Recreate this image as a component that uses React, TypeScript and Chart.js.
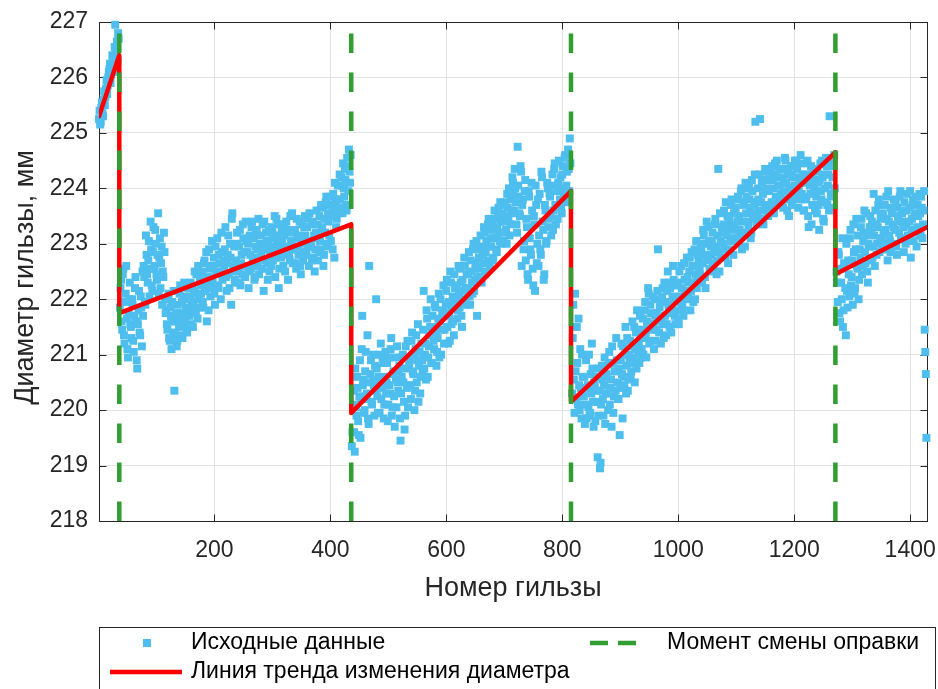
import React, { useEffect, useRef } from "react";
import { Chart, registerables } from "chart.js";

Chart.register(...registerables);

// ---------- axes ----------
const xTicks = [200, 400, 600, 800, 1000, 1200, 1400];
const yTicks = [218, 219, 220, 221, 222, 223, 224, 225, 226, 227];
const xMin = 1;
const xMax = 1429;
const yMin = 218;
const yMax = 227;

const xTitle = "Номер гильзы";
const yTitle = "Диаметр гильзы, мм";
const legendLabels = [
  "Исходные данные",
  "Линия тренда изменения диаметра",
  "Момент смены оправки",
];

// ---------- measured data ----------
const gilzaStep = 2;

const seg1Start = 1;
const seg1Y = [
  225.25, 225.15, 225.45, 225.35, 225.6, 225.5, 225.8, 225.7, 226.0, 226.15,
  225.9, 226.2, 226.35, 226.1, 226.95, 226.5, 226.3, 226.7,
];
const seg1bStart = 2;
const seg1bY = [
  225.4, 225.2, 225.55, 225.3, 225.75, 225.65, 225.95, 225.85, 226.1, 226.25,
  226.05, 226.4, 226.2, 226.55, 226.45, 226.65, 226.8,
];

const seg2Start = 37;
const seg2Y = [
  221.85, 222.35, 221.45, 222.55, 221.2, 222.1, 221.65, 220.95, 222.0, 221.55,
  221.3, 221.9, 221.05, 222.2, 221.6, 220.75, 221.8, 221.4, 222.05, 221.15,
  221.7, 222.4, 221.9, 222.8, 222.3, 223.05, 222.55, 222.9, 222.15, 223.3,
  222.6, 223.0, 222.35, 223.55, 222.75, 222.2, 222.95, 222.5, 223.2, 222.0,
  221.8, 221.45, 222.1, 221.25, 221.7, 221.95, 221.35, 220.35, 221.6, 221.15,
  221.9, 221.5, 222.25, 221.75, 221.3, 222.05, 221.6, 221.85, 221.4, 222.2,
  221.7, 222.3, 221.95, 221.5, 222.15, 221.8, 222.45, 221.65, 222.0, 222.35,
  222.1, 222.5, 221.85, 222.7, 222.25, 221.6, 222.4, 222.9, 222.05, 222.6,
  222.3, 222.75, 221.9, 222.5, 223.1, 222.2, 222.65, 222.0, 222.85, 222.4,
  222.55, 223.3, 222.15, 222.8, 222.45, 223.0, 221.9, 223.55, 222.6, 222.35,
  222.7, 223.2, 222.5, 222.95, 222.25, 222.8, 223.35, 222.6, 222.4, 223.05,
  222.85, 222.2, 223.15, 222.55, 223.4, 222.75, 222.35, 222.95, 223.25, 222.6,
  222.45, 223.0, 222.8, 223.35, 222.15, 222.9, 223.2, 222.65, 223.05, 222.5,
  222.95, 223.3, 222.7, 223.1, 222.4, 223.45, 222.85, 222.2, 223.15, 222.75,
  223.05, 222.6, 223.35, 222.9, 223.2, 222.35, 222.8, 223.5, 223.0, 222.65,
  222.9, 223.25, 222.55, 223.1, 222.8, 223.4, 222.45, 223.0, 222.7, 223.3,
  223.15, 222.85, 223.45, 222.6, 223.05, 222.95, 223.35, 222.75, 222.5, 223.2,
  223.1, 222.7, 223.5, 222.9, 223.3, 223.65, 222.8, 223.2, 223.85, 222.95,
  223.4, 223.7, 223.05, 223.55, 223.9, 222.75, 223.75, 223.45, 224.05, 223.6,
  223.8, 224.2, 223.55, 224.0, 224.35, 223.7, 224.55, 223.95, 224.3, 224.6,
];
const seg2bStart = 38;
const seg2bY = [
  222.2, 221.6, 222.45, 221.35, 221.95, 222.6, 221.1, 221.75, 222.3, 221.5,
  222.0, 221.25, 221.7, 222.4, 220.9, 221.55, 222.15, 221.35, 221.85, 222.5,
  222.6, 221.95, 223.15, 222.45, 222.7, 222.05, 223.4, 222.25, 222.85, 222.55,
  223.25, 222.45, 222.8, 222.1, 223.1, 222.65, 221.9, 222.4, 222.85, 221.75,
  221.55, 222.0, 221.3, 221.85, 221.1, 221.6, 222.15, 221.4, 221.75, 221.25,
  221.65, 222.1, 221.35, 221.95, 221.55, 222.3, 221.7, 221.45, 222.0, 221.8,
  222.05, 221.55, 222.2, 221.9, 222.5, 221.75, 222.1, 222.6, 221.85, 222.25,
  222.4, 221.95, 222.65, 222.15, 222.85, 222.35, 221.8, 222.55, 222.2, 223.05,
  222.6, 222.1, 222.95, 222.45, 222.25, 222.8, 222.5, 223.2, 222.35, 222.7,
  222.9, 222.4, 222.65, 223.15, 222.2, 222.75, 223.45, 222.5, 222.95, 222.3,
  222.55, 223.0, 222.3, 223.25, 222.65, 222.45, 223.1, 222.85, 223.4, 222.6,
  223.0, 222.5, 222.8, 223.3, 222.65, 223.1, 222.4, 223.2, 222.9, 223.45,
  222.75, 223.15, 222.55, 222.95, 223.4, 222.7, 223.05, 222.35, 223.25, 222.85,
  222.6, 223.2, 222.9, 223.5, 222.75, 223.0, 223.35, 222.55, 222.95, 223.25,
  222.8, 223.15, 222.5, 223.4, 222.95, 223.25, 222.7, 223.05, 223.55, 222.9,
  223.2, 222.65, 223.45, 222.95, 223.15, 222.6, 223.35, 222.85, 223.1, 223.5,
  222.8, 223.3, 222.95, 223.55, 223.05, 222.7, 223.4, 223.15, 222.9, 223.6,
  223.35, 222.85, 223.05, 223.7, 223.25, 222.6, 223.45, 223.75, 223.0, 223.55,
  223.15, 223.85, 223.5, 222.9, 223.65, 224.1, 223.3, 223.8, 223.55, 224.25,
  223.65, 224.05, 224.45, 223.85, 224.15, 223.6, 224.4, 224.7, 224.1,
];

const seg3Start = 437;
const seg3Y = [
  219.35, 220.1, 219.6, 220.75, 219.9, 220.4, 219.55, 220.9, 220.2, 221.7,
  220.55, 220.0, 221.05, 220.3, 219.85, 222.6, 220.65, 220.15, 221.0, 220.45,
  220.8, 222.0, 220.25, 220.6, 219.95, 221.2, 220.4, 220.85, 220.1, 221.05,
  220.5, 219.8, 220.95, 220.3, 221.3, 220.05, 220.7, 219.7, 220.55, 221.15,
  220.35, 220.8, 219.45, 220.6, 221.0, 220.15, 219.9, 220.75, 221.25, 220.45,
  220.9, 220.2, 221.4, 220.65, 220.0, 221.1, 220.5, 221.55, 220.8, 220.3,
  221.2, 220.7, 222.15, 221.0, 220.55, 221.65, 220.95, 221.35, 222.0, 220.85,
  221.5, 221.1, 221.85, 220.8, 221.3, 222.1, 221.6, 221.0, 221.75, 222.25,
  221.45, 221.9, 222.35, 221.2, 221.7, 222.5, 221.55, 222.05, 221.35, 222.2,
  222.0, 221.65, 222.6, 221.85, 222.3, 221.5, 222.15, 222.75, 221.95, 222.45,
  222.2, 222.85, 221.9, 222.5, 222.1, 223.0, 222.35, 222.65, 221.7, 222.9,
  222.55, 223.15, 222.3, 222.8, 223.3, 222.45, 223.05, 222.7, 223.45, 222.6,
  222.95, 223.35, 222.75, 223.6, 223.1, 222.85, 223.5, 223.2, 223.75, 223.0,
  223.4, 223.05, 223.7, 223.25, 223.9, 223.45, 223.15, 223.8, 223.55, 224.1,
  223.6, 224.0, 223.35, 224.75, 223.85, 223.5, 224.3, 223.7, 222.9, 223.95,
  222.7, 223.3, 222.35, 223.85, 222.9, 224.1, 222.55, 223.5, 222.15, 223.7,
  223.0, 222.6, 223.9, 222.8, 224.2, 223.25, 222.45, 223.6, 223.05, 224.0,
  223.45, 223.85, 223.15, 224.25, 223.6, 224.45, 223.35, 223.95, 224.1, 223.7,
  224.2, 223.55, 224.4, 223.9, 224.6, 224.05, 223.75, 224.35, 224.9,
];
const seg3bStart = 438;
const seg3bY = [
  219.6, 220.35, 219.25, 220.05, 220.6, 219.8, 220.25, 219.5, 221.1, 220.45,
  219.95, 220.7, 220.2, 221.35, 219.75, 220.5, 220.9, 220.1, 220.55, 219.9,
  220.35, 220.75, 219.95, 221.0, 220.5, 220.2, 220.95, 219.85, 220.6, 220.3,
  220.85, 220.1, 220.45, 221.1, 219.9, 220.65, 220.25, 220.95, 220.05, 220.5,
  220.7, 219.85, 220.3, 220.95, 220.5, 219.65, 221.15, 220.4, 220.05, 220.8,
  220.45, 221.25, 220.7, 221.0, 220.35, 221.35, 220.9, 220.15, 221.05, 220.6,
  220.9, 221.45, 220.75, 221.2, 221.8, 220.6, 221.15, 221.5, 220.85, 221.7,
  221.25, 221.9, 221.4, 221.05, 221.65, 220.95, 222.0, 221.45, 221.8, 221.2,
  221.75, 222.15, 221.5, 221.95, 221.25, 222.3, 221.85, 221.6, 222.45, 221.95,
  222.25, 221.8, 222.1, 222.55, 221.7, 222.35, 222.0, 222.6, 222.2, 221.9,
  222.45, 222.05, 222.7, 222.3, 222.9, 222.15, 222.55, 223.05, 222.4, 222.75,
  222.9, 222.4, 222.95, 222.65, 223.2, 222.85, 222.5, 223.35, 222.95, 223.1,
  223.25, 222.7, 223.1, 223.45, 222.9, 223.3, 223.65, 223.05, 223.4, 223.55,
  223.2, 223.75, 223.5, 223.0, 223.65, 224.0, 223.35, 223.6, 224.2, 223.9,
  224.35, 223.75, 223.2, 224.05, 223.55, 224.4, 222.6, 223.8, 223.05, 224.15,
  223.45, 222.45, 223.95, 223.1, 222.8, 223.6, 222.25, 223.35, 224.05, 222.65,
  223.8, 223.15, 222.9, 224.3, 223.4, 222.35, 223.7, 223.0, 224.1, 223.3,
  223.9, 223.5, 224.05, 223.25, 224.35, 223.7, 224.0, 223.45, 224.5, 223.8,
  223.65, 224.25, 224.0, 224.55, 223.85, 224.3, 224.7, 223.95, 224.45,
];

const seg4Start = 817;
const seg4Y = [
  220.3, 221.9, 219.95, 220.7, 221.5, 220.1, 220.45, 221.1, 219.85, 220.6,
  220.25, 219.75, 220.9, 220.4, 220.05, 219.9, 220.65, 221.2, 220.15, 220.5,
  219.8, 220.35, 219.15, 220.75, 218.95, 220.1, 220.55, 219.9, 220.95, 220.3,
  220.6, 220.0, 221.05, 220.4, 219.7, 220.85, 220.25, 220.7, 221.3, 220.5,
  220.2, 219.55, 220.9, 220.65, 221.15, 220.45, 221.5, 220.8, 220.35, 221.0,
  221.25, 220.7, 221.6, 220.95, 220.5, 221.4, 221.8, 221.05, 220.85, 221.35,
  221.1, 221.65, 221.3, 221.95, 220.95, 221.5, 222.1, 221.25, 221.75, 221.45,
  221.55, 222.0, 221.25, 221.75, 222.9, 221.4, 221.95, 221.65, 222.2, 221.3,
  221.7, 221.35, 222.15, 221.9, 221.5, 222.3, 221.75, 222.6, 222.0, 221.55,
  221.8, 222.25, 221.55, 222.05, 222.6, 221.9, 221.7, 222.35, 222.1, 222.75,
  222.05, 222.5, 221.8, 222.85, 222.3, 222.6, 222.0, 223.05, 222.4, 222.7,
  222.6, 223.0, 222.3, 223.25, 222.8, 222.2, 223.4, 222.7, 223.05, 222.5,
  222.8, 223.2, 222.55, 223.35, 222.95, 222.7, 224.35, 222.5, 223.05, 223.3,
  223.0, 223.6, 222.75, 223.25, 223.5, 222.9, 223.35, 223.7, 223.1, 222.8,
  223.3, 223.65, 223.05, 223.85, 223.5, 223.15, 224.0, 223.4, 223.75, 222.95,
  223.55, 224.0, 223.3, 223.8, 223.1, 224.15, 223.45, 223.7, 225.2, 223.35,
  224.0, 223.6, 225.25, 223.75, 224.15, 223.35, 223.95, 223.7, 224.3, 223.5,
  223.95, 224.3, 223.75, 224.15, 223.55, 224.45, 223.85, 224.2, 223.7, 224.05,
  223.9, 224.35, 223.65, 224.1, 224.5, 223.8, 224.25, 223.5, 224.0, 224.4,
  224.2, 223.8, 224.5, 224.0, 224.35, 223.65, 224.1, 224.6, 223.9, 224.25,
  223.6, 224.25, 223.85, 224.5, 223.3, 224.05, 224.4, 223.7, 224.15, 223.95,
  224.3, 223.55, 224.1, 223.25, 224.45, 223.8, 224.2, 223.4, 224.0, 224.55,
  223.7, 224.25, 225.3, 223.9, 224.4, 223.65, 224.6,
];
const seg4bStart = 818;
const seg4bY = [
  221.3, 220.55, 222.1, 220.2, 220.85, 221.65, 220.0, 220.4, 221.0, 220.25,
  220.6, 220.1, 219.85, 220.45, 221.0, 219.95, 220.3, 220.75, 219.7, 220.4,
  220.15, 220.6, 219.9, 220.35, 219.05, 220.8, 220.2, 220.45, 219.75, 220.65,
  220.3, 220.85, 220.1, 220.55, 221.15, 219.95, 220.7, 220.35, 220.9, 220.2,
  220.75, 220.4, 221.2, 219.85, 220.6, 221.0, 220.3, 221.3, 220.55, 220.9,
  220.6, 221.15, 220.85, 221.5, 221.1, 220.75, 221.45, 221.2, 221.7, 220.95,
  221.45, 221.0, 221.8, 221.35, 221.6, 222.2, 221.2, 221.9, 221.55, 222.05,
  221.1, 221.7, 221.45, 222.15, 221.6, 221.85, 221.2, 222.05, 221.55, 222.3,
  221.95, 221.55, 222.5, 221.8, 222.2, 221.4, 222.05, 222.35, 221.7, 222.25,
  222.3, 221.65, 222.5, 221.95, 222.2, 221.8, 222.65, 222.15, 222.0, 222.4,
  222.3, 222.75, 222.15, 222.6, 221.95, 222.9, 222.45, 222.2, 222.8, 222.55,
  222.45, 222.9, 222.65, 223.15, 222.4, 223.0, 222.75, 223.3, 222.55, 222.95,
  223.05, 222.65, 222.9, 223.45, 222.45, 223.15, 222.85, 223.55, 222.75, 223.2,
  223.35, 222.9, 223.75, 223.15, 222.65, 223.45, 223.05, 223.8, 223.25, 223.55,
  223.55, 223.1, 223.4, 223.8, 223.25, 223.95, 222.9, 223.7, 223.2, 224.1,
  223.85, 223.4, 224.05, 223.65, 223.2, 223.95, 223.55, 224.25, 223.75, 223.5,
  223.8, 224.25, 223.45, 224.1, 223.9, 223.6, 224.35, 224.0, 223.65, 224.2,
  224.15, 223.65, 224.4, 224.0, 224.25, 223.8, 224.5, 224.05, 224.35, 223.85,
  223.75, 224.2, 223.95, 224.55, 224.1, 223.6, 224.35, 223.9, 224.25, 223.7,
  224.4, 224.05, 223.85, 224.5, 224.2, 223.95, 224.45, 223.8, 224.15, 223.6,
  224.1, 223.8, 224.45, 223.5, 224.2, 223.9, 223.35, 224.3, 224.0, 223.6,
  223.85, 224.35, 223.7, 224.15, 223.95, 224.5, 223.45, 224.25, 223.75, 224.4,
  224.05, 223.6, 224.5, 223.85, 224.2, 224.55, 224.0,
];

const seg5Start = 1273;
const seg5Y = [
  222.5, 221.95, 222.8, 221.6, 222.3, 223.1, 221.8, 222.6, 221.35, 222.15,
  222.7, 222.05, 223.25, 222.4, 221.9, 222.85, 222.2, 223.45, 222.55, 222.0,
  222.9, 223.3, 222.45, 223.05, 223.6, 222.65, 223.15, 222.3, 222.95, 223.5,
  223.2, 222.75, 223.9, 222.6, 223.35, 223.0, 223.7, 222.85, 223.45, 223.1,
  223.55, 222.9, 223.25, 223.85, 222.7, 223.4, 223.05, 223.65, 222.95, 223.3,
  223.0, 223.75, 222.8, 223.5, 223.2, 223.95, 223.1, 223.4, 222.85, 223.6,
  223.35, 223.9, 223.05, 223.65, 222.75, 223.45, 223.8, 223.2, 223.55, 222.95,
  223.7, 223.25, 223.55, 223.85, 223.1, 223.6,
];
const seg5bStart = 1274;
const seg5bY = [
  222.3, 222.85, 221.75, 222.55, 222.0, 221.5, 222.65, 222.2, 223.0, 221.85,
  222.45, 223.1, 222.25, 222.7, 223.35, 222.1, 222.9, 222.6, 223.15, 222.35,
  222.75, 223.45, 222.6, 223.2, 222.85, 223.55, 222.5, 223.0, 223.3, 222.7,
  223.4, 222.95, 223.15, 223.6, 222.8, 223.3, 223.8, 223.05, 223.5, 222.9,
  223.2, 223.7, 223.0, 223.45, 223.95, 223.15, 222.85, 223.55, 223.35, 223.8,
  223.25, 222.95, 223.65, 223.4, 223.85, 223.1, 223.55, 223.3, 223.75, 223.0,
  223.6, 223.15, 223.4, 223.95, 223.25, 223.7, 223.05, 223.5, 223.85, 223.3,
  223.5, 223.9, 223.15, 223.65, 223.35,
];

const tailStart = 1424;
const tailStep = 1;
const tailY = [223.95, 221.45, 221.05, 220.65, 219.5];

// ---------- trend line & tool change moments ----------
const trendX = [1, 36, 36, 436, 436, 815, 815, 1271, 1271, 1429];
const trendY = [225.3, 226.4, 221.75, 223.35, 219.95, 223.95, 220.15, 224.65, 222.45, 223.3];
const changeX = [36, 436, 815, 1271];

// ---------- styles ----------
const FONT = '"Liberation Sans", Arial, Helvetica, sans-serif';
const AXIS_COLOR = "#262626";
const GRID_COLOR = "#e3e3e3";
const BLUE = "#4DBEEE";
const RED = "#FF0000";
const GREEN = "rgb(48,158,48)";

function series(start: number, step: number, ys: number[]) {
  return ys.map((y, i) => ({ x: start + i * step, y }));
}

const framePlugin = {
  id: "matlabFrame",
  beforeDatasetsDraw(chart: any) {
    const { ctx, chartArea: a, scales } = chart;
    ctx.save();
    ctx.strokeStyle = AXIS_COLOR;
    ctx.lineWidth = 1;
    ctx.strokeRect(a.left + 0.5, a.top + 0.5, a.right - a.left, a.bottom - a.top);
    ctx.beginPath();
    const tl = 7;
    for (const v of xTicks) {
      const px = Math.round(scales.x.getPixelForValue(v)) + 0.5;
      ctx.moveTo(px, a.bottom + 0.5);
      ctx.lineTo(px, a.bottom + 0.5 - tl);
      ctx.moveTo(px, a.top + 0.5);
      ctx.lineTo(px, a.top + 0.5 + tl);
    }
    for (const v of yTicks) {
      const py = Math.round(scales.y.getPixelForValue(v)) + 0.5;
      ctx.moveTo(a.left + 0.5, py);
      ctx.lineTo(a.left + 0.5 + tl, py);
      ctx.moveTo(a.right + 0.5, py);
      ctx.lineTo(a.right + 0.5 - tl, py);
    }
    ctx.stroke();

    // axis titles
    ctx.fillStyle = AXIS_COLOR;
    ctx.font = `27px ${FONT}`;
    ctx.textAlign = "center";
    ctx.textBaseline = "alphabetic";
    ctx.fillText(xTitle, (a.left + a.right) / 2, 596);
    ctx.save();
    ctx.translate(33, 277.5);
    ctx.rotate(-Math.PI / 2);
    ctx.fillText(yTitle, 0, 0);
    ctx.restore();
    ctx.restore();
  },
  afterDraw(chart: any) {
    const { ctx, chartArea: a } = chart;
    ctx.save();
    const boxTop = 627;
    const boxLeft = a.left;
    const boxRight = 935;
    ctx.fillStyle = "#fff";
    ctx.fillRect(boxLeft, boxTop, boxRight - boxLeft, 80);
    ctx.strokeStyle = AXIS_COLOR;
    ctx.lineWidth = 1;
    ctx.strokeRect(boxLeft + 0.5, boxTop + 0.5, boxRight - boxLeft, 80);

    const row1 = 643;
    const row2 = 672;
    ctx.fillStyle = BLUE;
    ctx.fillRect(143, row1 - 4, 8, 8);
    ctx.fillStyle = RED;
    ctx.fillRect(110, row2 - 2.25, 72, 4.5);
    ctx.fillStyle = GREEN;
    ctx.fillRect(590, row1 - 2.25, 18, 4.5);
    ctx.fillRect(618, row1 - 2.25, 18, 4.5);

    ctx.fillStyle = "#000";
    ctx.font = `23px ${FONT}`;
    ctx.textBaseline = "middle";
    ctx.textAlign = "left";
    ctx.fillText(legendLabels[0], 191, row1);
    ctx.fillText(legendLabels[1], 191, row2);
    ctx.fillText(legendLabels[2], 667, row1);
    ctx.restore();
  },
};

export default function App() {
  const ref = useRef<HTMLCanvasElement | null>(null);

  useEffect(() => {
    if (!ref.current) return;
    const scatterData = [
      ...series(seg1Start, gilzaStep, seg1Y),
      ...series(seg1bStart, gilzaStep, seg1bY),
      ...series(seg2Start, gilzaStep, seg2Y),
      ...series(seg2bStart, gilzaStep, seg2bY),
      ...series(seg3Start, gilzaStep, seg3Y),
      ...series(seg3bStart, gilzaStep, seg3bY),
      ...series(seg4Start, gilzaStep, seg4Y),
      ...series(seg4bStart, gilzaStep, seg4bY),
      ...series(seg5Start, gilzaStep, seg5Y),
      ...series(seg5bStart, gilzaStep, seg5bY),
      ...series(tailStart, tailStep, tailY),
    ];
    const trendData = trendX.map((x, i) => ({ x, y: trendY[i] }));
    const changeSets = changeX.map((x) => ({
      type: "line" as const,
      label: legendLabels[2],
      data: [
        { x, y: yMin },
        { x, y: yMax },
      ],
      borderColor: GREEN,
      borderWidth: 4.5,
      borderDash: [19.5, 19.5],
      borderCapStyle: "butt" as const,
      pointRadius: 0,
      fill: false,
      order: 0,
    }));

    const chart = new Chart(ref.current, {
      type: "scatter",
      data: {
        datasets: [
          {
            type: "scatter",
            label: legendLabels[0],
            data: scatterData,
            pointStyle: "rect",
            pointRadius: 5.6,
            backgroundColor: BLUE,
            borderWidth: 0,
            clip: false,
            order: 2,
          } as any,
          {
            type: "line",
            label: legendLabels[1],
            data: trendData,
            borderColor: RED,
            borderWidth: 4.5,
            borderJoinStyle: "round",
            borderCapStyle: "round",
            pointRadius: 0,
            fill: false,
            tension: 0,
            order: 1,
          } as any,
          ...(changeSets as any[]),
        ],
      },
      options: {
        responsive: false,
        devicePixelRatio: 1,
        animation: false,
        layout: { padding: { left: 0, right: 11, top: 22, bottom: 68 } },
        plugins: {
          legend: { display: false },
          tooltip: { enabled: false },
        },
        scales: {
          x: {
            type: "linear",
            min: xMin,
            max: xMax,
            afterBuildTicks: (s: any) => {
              s.ticks = xTicks.map((v) => ({ value: v }));
            },
            afterFit: (s: any) => {
              s.height = 100;
              s.paddingLeft = 0;
              s.paddingRight = 0;
            },
            grid: { color: GRID_COLOR, drawTicks: false, lineWidth: 1 },
            border: { display: false },
            ticks: {
              padding: 16,
              color: AXIS_COLOR,
              autoSkip: false,
              maxRotation: 0,
              font: { family: FONT, size: 23 },
              callback: (v: any) => String(v),
            },
          },
          y: {
            type: "linear",
            min: yMin,
            max: yMax,
            afterBuildTicks: (s: any) => {
              s.ticks = yTicks.map((v) => ({ value: v }));
            },
            afterFit: (s: any) => {
              s.width = 99;
              s.paddingTop = 0;
              s.paddingBottom = 0;
            },
            grid: { color: GRID_COLOR, drawTicks: false, lineWidth: 1 },
            border: { display: false },
            ticks: {
              padding: 11,
              color: AXIS_COLOR,
              autoSkip: false,
              font: { family: FONT, size: 23 },
              callback: (v: any) => String(v),
            },
          },
        },
      },
      plugins: [framePlugin],
    } as any);

    return () => chart.destroy();
  }, []);

  return (
    <div
      style={{
        position: "fixed",
        left: 0,
        top: 0,
        width: 938,
        height: 689,
        background: "#fff",
      }}
    >
      <canvas ref={ref} width={938} height={689} style={{ display: "block" }} />
    </div>
  );
}
